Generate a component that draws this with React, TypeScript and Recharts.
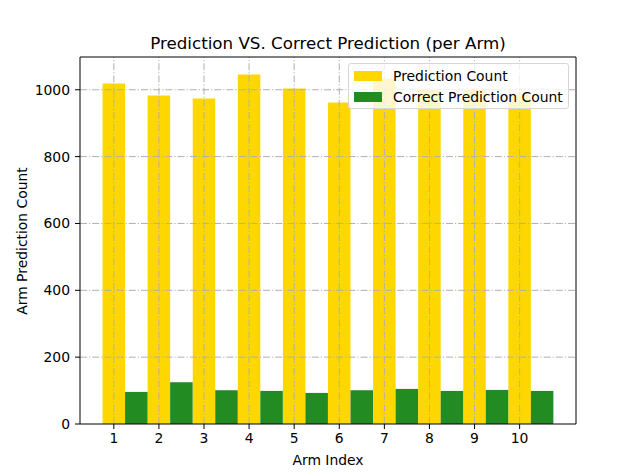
import React from "react";
import { BarChart, Bar, XAxis, YAxis, ReferenceLine, Legend } from "recharts";

const arms = [1, 2, 3, 4, 5, 6, 7, 8, 9, 10];
const predictionCounts = [1019, 983, 974, 1046, 1004, 962, 1034, 1000, 1000, 986];
const correctCounts = [96, 125, 101, 99, 93, 101, 105, 99, 102, 99];
const yTicks = [0, 200, 400, 600, 800, 1000];
const seriesNames = ["Prediction Count", "Correct Prediction Count"];
const seriesColors = ["#FFD700", "#228B22"];

const Y_MAX = 1098;
const X_VIEW: [number, number] = [0.25, 11.25];
const X_DATA: [number, number] = [0, 11];

const data = arms.map((a, i) => ({
  arm: a,
  pred: predictionCounts[i],
  corr: correctCounts[i],
}));

const FONT = "'DejaVu Sans', sans-serif";
const GRID = "#b0b0b0";
const DASH = "7 2 1.2 2";

const LegendBox = () => (
  <div
    style={{
      position: "relative",
      width: 221,
      height: 46,
      boxSizing: "border-box",
      border: "1px solid #d6d6d6",
      borderRadius: 3,
      background: "rgba(255,255,255,0.8)",
      fontFamily: FONT,
      fontSize: 13.9,
      color: "#000",
    }}
  >
    {seriesNames.map((n, i) => (
      <div key={n}>
        <div
          style={{
            position: "absolute",
            left: 5,
            top: 7 + i * 21,
            width: 28,
            height: 10,
            background: seriesColors[i],
          }}
        />
        <div
          style={{
            position: "absolute",
            left: 44,
            top: 4 + i * 21,
            lineHeight: "16px",
            whiteSpace: "nowrap",
          }}
        >
          {n}
        </div>
      </div>
    ))}
  </div>
);

export default function App() {
  return (
    <div
      style={{
        position: "absolute",
        left: 0,
        top: 0,
        width: 640,
        height: 476,
        background: "#fff",
        fontFamily: FONT,
      }}
    >
      <BarChart
        width={640}
        height={476}
        data={data}
        margin={{ top: 57, right: 64, left: 20, bottom: 22 }}
        barGap={0}
      >
        <XAxis
          xAxisId="view"
          type="number"
          dataKey="arm"
          domain={X_VIEW}
          ticks={arms}
          allowDataOverflow
          height={30}
          tickSize={5}
          tickMargin={4}
          stroke="#000"
          tick={{ fill: "#000", fontSize: 13.9, fontFamily: FONT }}
          interval={0}
        />
        <XAxis
          xAxisId="data"
          type="number"
          dataKey="arm"
          domain={X_DATA}
          ticks={arms}
          allowDataOverflow
          orientation="top"
          height={0}
          hide
        />
        <YAxis
          type="number"
          domain={[0, Y_MAX]}
          ticks={yTicks}
          allowDataOverflow
          width={60}
          tickSize={5}
          tickMargin={5}
          stroke="#000"
          tick={{ fill: "#000", fontSize: 13.9, fontFamily: FONT }}
          interval={0}
        />
        <Bar
          xAxisId="data"
          dataKey="pred"
          name={seriesNames[0]}
          fill={seriesColors[0]}
          barSize={22.5}
          isAnimationActive={false}
        />
        <Bar
          xAxisId="data"
          dataKey="corr"
          name={seriesNames[1]}
          fill={seriesColors[1]}
          barSize={22.5}
          isAnimationActive={false}
        />
        {arms.map((a) => (
          <ReferenceLine
            key={"vx" + a}
            xAxisId="view"
            x={a}
            stroke={GRID}
            strokeWidth={1}
            strokeDasharray={DASH}
          />
        ))}
        {yTicks.slice(1).map((t) => (
          <ReferenceLine
            key={"hy" + t}
            xAxisId="view"
            y={t}
            stroke={GRID}
            strokeWidth={1}
            strokeDasharray={DASH}
          />
        ))}
        <ReferenceLine xAxisId="view" y={Y_MAX} stroke="#000" strokeWidth={1} />
        <ReferenceLine xAxisId="view" x={X_VIEW[1]} stroke="#000" strokeWidth={1} />
        <Legend
          layout="horizontal"
          align="center"
          verticalAlign="middle"
          content={() => <LegendBox />}
          wrapperStyle={{ position: "absolute", left: 348, top: 63, width: 221, height: 46 }}
        />
      </BarChart>
      <div
        style={{
          position: "absolute",
          left: 80,
          width: 496,
          top: 35,
          textAlign: "center",
          fontSize: 16.7,
          lineHeight: "17px",
          color: "#000",
          whiteSpace: "nowrap",
        }}
      >
        Prediction VS. Correct Prediction (per Arm)
      </div>
      <div
        style={{
          position: "absolute",
          left: 80,
          width: 496,
          top: 453,
          textAlign: "center",
          fontSize: 13.9,
          lineHeight: "14px",
          color: "#000",
          whiteSpace: "nowrap",
        }}
      >
        Arm Index
      </div>
      <div
        style={{
          position: "absolute",
          left: 22,
          top: 240.5,
          transform: "translate(-50%, -50%) rotate(-90deg)",
          fontSize: 13.9,
          lineHeight: "14px",
          color: "#000",
          whiteSpace: "nowrap",
        }}
      >
        Arm Prediction Count
      </div>
    </div>
  );
}
